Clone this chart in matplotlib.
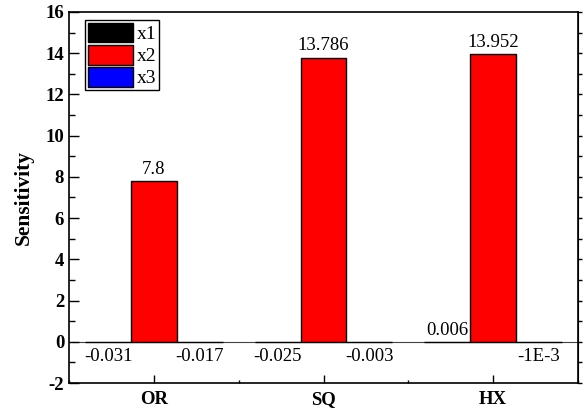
import numpy as np
import matplotlib.pyplot as plt
from matplotlib.ticker import MultipleLocator

plt.rcParams['font.family'] = ['Liberation Serif', 'DejaVu Serif']
plt.rcParams['axes.unicode_minus'] = False

# sensitivity of each index for the three samples
groups = ['OR', 'SQ', 'HX']
x1 = [-0.031, -0.025, 0.006]
x2 = [7.8, 13.786, 13.952]
x3 = [-0.017, -0.003, -0.001]
x1_txt = ['-0.031', '-0.025', '0.006']
x2_txt = ['7.8', '13.786', '13.952']
x3_txt = ['-0.017', '-0.003', '-1E-3']

fig = plt.figure(figsize=(5.85, 4.11), dpi=100)
ax = fig.add_axes([0.118, 0.068, 0.870, 0.903])

pos = np.arange(1, len(groups) + 1)
w = 0.27
series = [(x1, x1_txt, 'black', 'x1', -w),
          (x2, x2_txt, 'red', 'x2', 0),
          (x3, x3_txt, 'blue', 'x3', w)]

ax.axhline(0, color='#444444', lw=0.8, zorder=1)

for vals, txts, col, name, off in series:
    ax.bar(pos + off, vals, width=w, color=col, edgecolor='black',
           linewidth=1.0, label=name, zorder=2)
    for xp, v, t in zip(pos + off, vals, txts):
        if v >= 0:
            ax.text(xp, v + 0.15, t, ha='center', va='bottom', fontsize=13.5)
        else:
            ax.text(xp, -0.3, t, ha='center', va='top', fontsize=13.5)

ax.set_xlim(0.5, 3.5)
ax.set_ylim(-2, 16)
ax.set_xticks(pos)
ax.set_xticklabels(groups, fontsize=13.5, fontweight='bold')
ax.xaxis.set_minor_locator(MultipleLocator(0.5))
ax.yaxis.set_major_locator(MultipleLocator(2))
ax.yaxis.set_minor_locator(MultipleLocator(1))
for lab in ax.get_yticklabels():
    lab.set_fontweight('bold')
    lab.set_fontsize(13.5)

ax.tick_params(axis='y', which='major', direction='in', length=7, width=1)
ax.tick_params(axis='y', which='minor', direction='in', length=4, width=1)
ax.tick_params(axis='x', which='major', direction='in', length=6, width=1, pad=6)
ax.tick_params(axis='x', which='minor', direction='in', length=2, width=1)

# right-hand axis ticks point outwards
ry = ax.secondary_yaxis('right')
ry.yaxis.set_major_locator(MultipleLocator(1))
ry.tick_params(direction='out', length=3, width=1, labelright=False)

for s in ax.spines.values():
    s.set_linewidth(1.2)

ax.set_ylabel('Sensitivity', fontsize=15.5, fontweight='bold', labelpad=8)

ax.legend(loc='upper left', bbox_to_anchor=(0.02, 0.995), fontsize=14,
          frameon=True, fancybox=False, edgecolor='black', framealpha=1,
          handlelength=2.3, handleheight=1.2, handletextpad=0.2,
          labelspacing=0.08, borderpad=0.15, borderaxespad=0.3)

fig.savefig('out.png', dpi=100)
